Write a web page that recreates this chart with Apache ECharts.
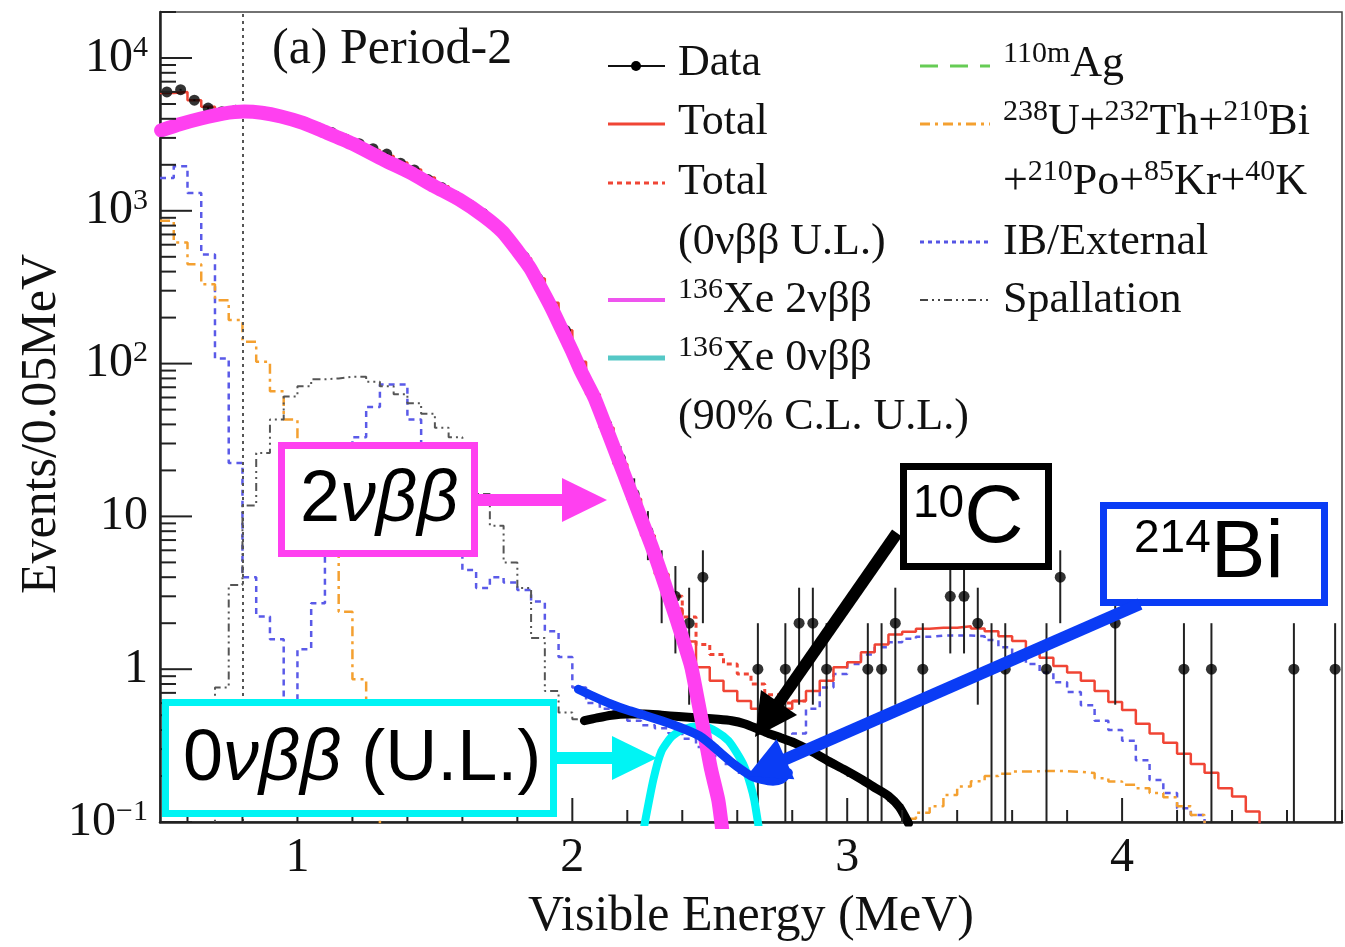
<!DOCTYPE html>
<html><head><meta charset="utf-8">
<script src="https://cdn.jsdelivr.net/npm/echarts@6/dist/echarts.min.js"></script>
<style>html,body{margin:0;padding:0;background:#fff}#c{width:1345px;height:947px}</style>
</head><body><div id="c"></div><script>
// ---------------- values ----------------
const binWidth = 0.05;               // MeV per bin
const xLabels = [1, 2, 3, 4];
const yDecades = [0.1, 1, 10, 100, 1000, 10000];

// data: [bin centre (MeV), events]
const dataCounts = [
 [0.525,6000],[0.575,6200],[0.625,5300],[0.675,4700],[0.725,4450],[0.775,4550],[0.825,4400],[0.875,4450],
 [0.925,4200],[0.975,4000],[1.025,3800],[1.075,3500],[1.125,3250],[1.175,2950],[1.225,2750],[1.275,2550],
 [1.325,2350],[1.375,2050],[1.425,1850],[1.475,1600],[1.525,1420],[1.575,1250],[1.625,1100],[1.675,960],
 [1.725,780],[1.775,620],[1.825,500],[1.875,360],[1.925,240],[1.975,165],[2.025,100],[2.075,63],
 [2.125,40],[2.175,24],[2.225,14],[2.275,8],[2.325,4],[2.375,3],[2.425,2],[2.475,4],
 [2.675,1],[2.775,1],[2.825,2],[2.875,2],[2.925,1],[3.075,1],[3.125,1],[3.175,2],[3.275,1],
 [3.375,3],[3.425,3],[3.475,2],[3.525,1],[3.575,1],[3.725,1],[3.775,4],[3.975,2],
 [4.225,1],[4.325,1],[4.625,1],[4.775,1]
];

const totalFit = [
 [0.525,5900],[0.575,6000],[0.625,5300],[0.675,4800],[0.725,4500],[0.775,4450],[0.825,4400],[0.875,4350],
 [0.925,4200],[0.975,4000],[1.025,3780],[1.075,3520],[1.125,3250],[1.175,2980],[1.225,2730],[1.275,2500],
 [1.325,2280],[1.375,2070],[1.425,1860],[1.475,1650],[1.525,1450],[1.575,1260],[1.625,1090],[1.675,930],
 [1.725,780],[1.775,630],[1.825,490],[1.875,360],[1.925,250],[1.975,165],[2.025,103],[2.075,63],
 [2.125,38],[2.175,22],[2.225,13],[2.275,7.5],[2.325,4.2],[2.375,2.5],[2.425,1.52],[2.475,1.03],
 [2.525,0.84],[2.575,0.72],[2.625,0.62],[2.675,0.55],[2.725,0.55],[2.775,0.55],[2.825,0.62],[2.875,0.72],
 [2.925,0.84],[2.975,1.03],[3.025,1.11],[3.075,1.29],[3.125,1.45],[3.175,1.69],[3.225,1.76],[3.275,1.84],
 [3.325,1.87],[3.375,1.87],[3.425,1.91],[3.475,1.85],[3.525,1.77],[3.575,1.64],[3.625,1.53],[3.675,1.35],
 [3.725,1.19],[3.775,1.05],[3.825,0.95],[3.875,0.84],[3.925,0.72],[3.975,0.61],[4.025,0.54],[4.075,0.44],
 [4.125,0.38],[4.175,0.33],[4.225,0.28],[4.275,0.24],[4.325,0.21],[4.375,0.166],[4.425,0.147],[4.475,0.117],
 [4.525,0.05]
];

const totalWithUL = [
 [2.375,3.0],[2.425,2.2],[2.475,1.45],[2.525,1.25],[2.575,1.08],[2.625,0.93],[2.675,0.8],[2.725,0.68],
 [2.775,0.6],[2.825,0.62]
];

const ibExternal = [
 [0.525,1640],[0.575,1960],[0.625,1310],[0.675,518],[0.725,108],[0.775,22.4],[0.825,4.0],[0.875,2.21],
 [0.925,1.57],[0.975,0.3],[1.025,1.35],[1.075,2.7],[1.125,8],[1.175,16],[1.225,33],[1.275,52],
 [1.325,73],[1.375,73],[1.425,43],[1.475,30],[1.525,18],[1.575,9],[1.625,4.46],[1.675,3.4],
 [1.725,4.0],[1.775,3.7],[1.825,3.3],[1.875,2.77],[1.925,1.77],[1.975,1.2],[2.025,0.76],[2.075,0.6],
 [2.125,0.55],[2.175,0.5],[2.225,0.46],[2.275,0.43],[2.325,0.41],[2.375,0.38],[2.425,0.35],[2.475,0.31],
 [2.525,0.27],[2.575,0.24],[2.625,0.21],[2.675,0.2],[2.725,0.2],[2.775,0.27],[2.825,0.38],[2.875,0.55],
 [2.925,0.76],[2.975,0.93],[3.025,1.08],[3.075,1.25],[3.125,1.39],[3.175,1.5],[3.225,1.58],[3.275,1.63],
 [3.325,1.66],[3.375,1.66],[3.425,1.66],[3.475,1.64],[3.525,1.55],[3.575,1.39],[3.625,1.22],[3.675,1.08],
 [3.725,0.95],[3.775,0.82],[3.825,0.71],[3.875,0.58],[3.925,0.46],[3.975,0.40],[4.025,0.34],[4.075,0.254],
 [4.125,0.188],[4.175,0.155],[4.225,0.123],[4.275,0.111],[4.325,0.05]
];

const uThLow = [
 [0.525,861],[0.575,620],[0.625,447],[0.675,330],[0.725,260],[0.775,193],[0.825,139],[0.875,103],
 [0.925,66],[0.975,43],[1.025,30],[1.075,15],[1.125,7],[1.175,2.38],[1.225,0.86],[1.275,0.35],[1.325,0.05]
];
const uThHigh = [
 [3.175,0.05],[3.225,0.105],[3.275,0.115],[3.325,0.127],[3.375,0.15],[3.425,0.171],[3.475,0.185],[3.525,0.2],
 [3.575,0.207],[3.625,0.214],[3.675,0.215],[3.725,0.216],[3.775,0.215],[3.825,0.213],[3.875,0.209],[3.925,0.193],
 [3.975,0.184],[4.025,0.175],[4.075,0.166],[4.125,0.155],[4.175,0.145],[4.225,0.127],[4.275,0.111],[4.325,0.05]
];

const spallation = [
 [0.675,0.05],[0.725,0.76],[0.775,3.56],[0.825,11.8],[0.875,26],[0.925,43],[0.975,61],[1.025,71],
 [1.075,79],[1.125,80],[1.175,82],[1.225,82],[1.275,76],[1.325,71],[1.375,63],[1.425,55],
 [1.475,47],[1.525,38],[1.575,33],[1.625,24],[1.675,14],[1.725,8.7],[1.775,5.0],[1.825,3.4],
 [1.875,1.6],[1.925,0.72],[1.975,0.52],[2.025,0.47],[2.075,0.47],[2.125,0.5],[2.175,0.5],[2.225,0.51],
 [2.275,0.5],[2.325,0.49],[2.375,0.49],[2.425,0.48],[2.475,0.47],[2.525,0.47],[2.575,0.45],[2.625,0.44],
 [2.675,0.41],[2.725,0.37],[2.775,0.35],[2.825,0.32],[2.875,0.29],[2.925,0.255],[2.975,0.23],[3.025,0.2],
 [3.075,0.18],[3.125,0.158],[3.175,0.135],[3.225,0.05]
];

// hand-drawn highlight strokes: [MeV, events]
const hand2nu = [
 [0.504,3360],[0.575,3700],[0.649,4020],[0.73,4330],[0.806,4460],[0.87,4380],[0.94,4140],[1.02,3760],
 [1.097,3300],[1.2,2750],[1.315,2150],[1.41,1780],[1.497,1450],[1.59,1180],[1.679,920],[1.745,730],
 [1.803,540],[1.847,420],[1.887,310],[1.925,230],[1.96,170],[2.0,120],[2.033,88],[2.08,60],
 [2.131,35],[2.17,23],[2.204,15.9],[2.245,10.2],[2.287,6.5],[2.32,4.4],[2.349,3.07],[2.38,2.1],
 [2.408,1.45],[2.433,1.03],[2.455,0.65],[2.48,0.378],[2.505,0.22],[2.531,0.139],[2.545,0.09]
];
const hand0nu = [
 [2.262,0.095],[2.295,0.19],[2.324,0.29],[2.36,0.36],[2.397,0.40],[2.44,0.42],[2.48,0.42],[2.525,0.39],
 [2.568,0.34],[2.6,0.28],[2.626,0.23],[2.648,0.175],[2.662,0.139],[2.677,0.095]
];
const handBi214 = [
 [2.022,0.74],[2.08,0.66],[2.142,0.59],[2.2,0.54],[2.262,0.50],[2.325,0.46],[2.386,0.42],[2.43,0.39],
 [2.469,0.36],[2.505,0.32],[2.542,0.28],[2.58,0.245],[2.615,0.22],[2.65,0.2],[2.688,0.19],[2.73,0.185],
 [2.761,0.19],[2.786,0.21]
];
const handC10 = [
 [2.044,0.46],[2.09,0.48],[2.142,0.50],[2.2,0.51],[2.262,0.51],[2.325,0.50],[2.386,0.49],[2.46,0.48],
 [2.531,0.47],[2.58,0.46],[2.626,0.44],[2.67,0.41],[2.713,0.38],[2.76,0.355],[2.808,0.33],[2.87,0.29],
 [2.932,0.25],[2.99,0.22],[3.052,0.19],[3.1,0.168],[3.15,0.148],[3.19,0.125],[3.223,0.098]
];

// ---------------- build ----------------
const X_MIN = 0.5, X_MAX = 4.8, Y_MIN = 0.1, Y_MAX = 20000;
const SERIF = 'Liberation Serif';
const SANS = 'Liberation Sans';

function hist(pairs) {
  const out = pairs.map(p => [+(p[0] - binWidth / 2).toFixed(4), p[1]]);
  const last = pairs[pairs.length - 1];
  out.push([+(last[0] + binWidth / 2).toFixed(4), last[1]]);
  return out;
}
function histSeries(name, pairs, color, width, type, z) {
  return { name, type: 'line', step: 'end', data: hist(pairs), symbol: 'none', showSymbol: false,
    lineStyle: { color, width, type }, z, silent: true, animation: false };
}
function handSeries(name, pairs, color, width, z) {
  return { name, type: 'line', smooth: 0.2, data: pairs, symbol: 'none', showSymbol: false,
    lineStyle: { color, width, cap: 'round', join: 'round' }, z, silent: true, animation: false };
}

// axis tick positions (ROOT style)
const xTickVals = [];
for (let i = 3; i <= 24; i++) xTickVals.push(+(i * 0.2).toFixed(1));
const yMinorVals = [];
for (let k = -1; k <= 4; k++) for (let m = 2; m <= 9; m++) { const v = m * Math.pow(10, k); if (v <= Y_MAX) yMinorVals.push(v); }

const tickSeries = {
  type: 'custom', silent: true, z: 30, animation: false, data: [[X_MIN, 1]],
  renderItem(params, api) {
    const ch = [];
    const origin = api.coord([X_MIN, Y_MIN]);
    const st = { stroke: '#222', lineWidth: 2 };
    xTickVals.forEach(v => {
      const p = api.coord([v, Y_MIN]);
      const major = Math.abs(v - Math.round(v)) < 1e-6;
      ch.push({ type: 'line', shape: { x1: p[0], y1: origin[1], x2: p[0], y2: origin[1] - (major ? 24 : 12) }, style: st });
    });
    yDecades.forEach(v => {
      const p = api.coord([X_MIN, v]);
      ch.push({ type: 'line', shape: { x1: origin[0], y1: p[1], x2: origin[0] + 32, y2: p[1] }, style: st });
    });
    yMinorVals.forEach(v => {
      const p = api.coord([X_MIN, v]);
      ch.push({ type: 'line', shape: { x1: origin[0], y1: p[1], x2: origin[0] + 16, y2: p[1] }, style: st });
    });
    return { type: 'group', children: ch };
  }
};

const errorBars = {
  type: 'custom', silent: true, z: 8, animation: false, data: dataCounts,
  renderItem(params, api) {
    const x = api.value(0), n = api.value(1), e = Math.sqrt(n);
    const lo = Math.max(n - e, Y_MIN), hi = n + e;
    const p1 = api.coord([x, lo]), p2 = api.coord([x, hi]);
    return { type: 'line', shape: { x1: p1[0], y1: p1[1], x2: p2[0], y2: p2[1] }, style: { stroke: '#222', lineWidth: 2 } };
  }
};

// ---------- annotation helpers (pixel layout) ----------
function arrow(x0, y0, x1, y1, color, w, headLen, headHalf) {
  const dx = x1 - x0, dy = y1 - y0, L = Math.hypot(dx, dy);
  const ux = dx / L, uy = dy / L, nx = -uy, ny = ux;
  const bx = x1 - ux * headLen, by = y1 - uy * headLen;
  return [
    { type: 'line', z: 100, shape: { x1: x0, y1: y0, x2: bx + ux * 2, y2: by + uy * 2 }, style: { stroke: color, lineWidth: w } },
    { type: 'polygon', z: 100, shape: { points: [[x1, y1], [bx + nx * headHalf, by + ny * headHalf], [bx - nx * headHalf, by - ny * headHalf]] }, style: { fill: color } }
  ];
}
function box(x0, y0, x1, y1, color, lw) {
  return { type: 'rect', z: 99, shape: { x: x0 + lw / 2, y: y0 + lw / 2, width: x1 - x0 - lw, height: y1 - y0 - lw }, style: { fill: '#fff', stroke: color, lineWidth: lw } };
}
function legLine(x0, x1, y, color, width, type) {
  return { type: 'line', z: 60, shape: { x1: x0, y1: y, x2: x1, y2: y }, style: { stroke: color, lineWidth: width, lineDash: type || null } };
}
const legRich = {
  b: { fontFamily: SERIF, fontSize: 44, lineHeight: 50, fill: '#111', verticalAlign: 'middle' },
  s: { fontFamily: SERIF, fontSize: 30, lineHeight: 50, fill: '#111', verticalAlign: 'top' }
};
function legText(x, y, text) {
  return { type: 'text', z: 60, x, y, style: { text, rich: legRich, verticalAlign: 'middle', align: 'left', fill: '#111' } };
}

const M = '#ff40f0', CY = '#00f4f4', BL = '#0a3cf5';
const annRichBig = {
  n: { fontFamily: SANS, fontSize: 72, fill: '#000', lineHeight: 84, verticalAlign: 'middle' },
  i: { fontFamily: SANS, fontSize: 72, fontStyle: 'italic', fill: '#000', lineHeight: 84, verticalAlign: 'middle' },
  s: { fontFamily: SANS, fontSize: 46, fill: '#000', lineHeight: 84, verticalAlign: 'top', padding: [4, 0, 0, 0] },
  b: { fontFamily: SANS, fontSize: 82, fill: '#000', lineHeight: 84, verticalAlign: 'middle' }
};

const graphics = [
  { type: 'text', z: 60, x: 272, y: 50, style: { text: '(a) Period-2', fontFamily: SERIF, fontSize: 50, fill: '#111', verticalAlign: 'middle' } },
  // y-axis title, placed like ROOT's
  { type: 'text', z: 60, x: 42, y: 424, rotation: Math.PI / 2, style: { text: 'Events/0.05MeV', fontFamily: SERIF, fontSize: 50, fill: '#111', align: 'center', verticalAlign: 'middle' } },
  // legend column 1
  legLine(608, 665, 66, '#111', 2), { type: 'circle', z: 61, shape: { cx: 636, cy: 66, r: 5 }, style: { fill: '#000' } },
  legText(678, 63, '{b|Data}'),
  legLine(608, 665, 124, '#f04535', 3), legText(678, 122, '{b|Total}'),
  legLine(608, 665, 183, '#f04535', 3, [5, 4]), legText(678, 182, '{b|Total}'),
  legText(678, 242, '{b|(0νββ U.L.)}'),
  legLine(608, 665, 300, '#ee55ee', 4), legText(678, 300, '{s|136}{b|Xe 2νββ}'),
  legLine(608, 665, 358, '#55c8c6', 5), legText(678, 358, '{s|136}{b|Xe 0νββ}'),
  legText(678, 417, '{b|(90% C.L. U.L.)}'),
  // legend column 2
  legLine(920, 990, 66, '#66cc55', 3, [18, 12]), legText(1003, 64, '{s|110m}{b|Ag}'),
  legLine(920, 990, 124, '#f4a030', 3, [10, 5, 3, 5]), legText(1003, 122, '{s|238}{b|U+}{s|232}{b|Th+}{s|210}{b|Bi}'),
  legText(1003, 182, '{b|+}{s|210}{b|Po+}{s|85}{b|Kr+}{s|40}{b|K}'),
  legLine(920, 990, 242, '#5555e5', 3, [4, 4]), legText(1003, 242, '{b|IB/External}'),
  legLine(920, 990, 300, '#444', 2, [8, 4, 2, 4, 2, 4]), legText(1003, 300, '{b|Spallation}'),
  // annotation boxes
  box(278, 442, 478, 557, M, 7),
  { type: 'text', z: 101, x: 300, y: 501, style: { text: '{n|2}{i|νββ}', rich: annRichBig, verticalAlign: 'middle' } },
  ...arrow(478, 500, 607, 500, M, 12, 45, 22),
  box(162, 699, 557, 817, CY, 7),
  { type: 'text', z: 101, x: 183, y: 760, style: { text: '{n|0}{i|νββ}{n| (U.L.)}', rich: annRichBig, verticalAlign: 'middle' } },
  ...arrow(557, 758, 657, 758, CY, 12, 45, 22),
  box(900, 463, 1052, 570, '#000', 7),
  { type: 'text', z: 101, x: 913, y: 519, style: { text: '{s|10}{b|C}', rich: annRichBig, verticalAlign: 'middle' } },
  ...arrow(897, 533, 755, 737, '#000', 12, 42, 22),
  box(1100, 502, 1328, 606, BL, 7),
  { type: 'text', z: 101, x: 1134, y: 554, style: { text: '{s|214}{b|Bi}', rich: annRichBig, verticalAlign: 'middle' } },
  ...arrow(1140, 604, 747, 776, BL, 12, 42, 22)
];

const option = {
  animation: false,
  backgroundColor: '#fff',
  grid: { left: 160, right: 3, top: 12, bottom: 119, show: true, borderColor: '#444', borderWidth: 1.5, backgroundColor: 'transparent' },
  xAxis: {
    type: 'value', min: X_MIN, max: X_MAX, interval: 0.5,
    name: 'Visible Energy (MeV)', nameLocation: 'middle', nameGap: 70, nameMoveOverlap: false,
    nameTextStyle: { fontFamily: SERIF, fontSize: 50, color: '#111' },
    axisLine: { show: true, lineStyle: { color: '#222', width: 2.5 } },
    axisTick: { show: false }, splitLine: { show: false },
    axisLabel: { fontFamily: SERIF, fontSize: 48, color: '#111', margin: 12, showMaxLabel: false, showMinLabel: false,
      formatter: v => (Math.abs(v - Math.round(v)) < 1e-6 && xLabels.indexOf(Math.round(v)) >= 0) ? String(Math.round(v)) : '' }
  },
  yAxis: {
    type: 'log', logBase: 10, min: Y_MIN, max: Y_MAX,
    axisLine: { show: true, lineStyle: { color: '#222', width: 2.5 } },
    axisTick: { show: false }, splitLine: { show: false }, minorTick: { show: false },
    axisLabel: {
      margin: 12, showMaxLabel: false,
      formatter: v => {
        const l = Math.log10(v), e = Math.round(l);
        if (Math.abs(l - e) > 0.01) return '';
        if (e === 0) return '{b|1}';
        if (e === 1) return '{b|10}';
        return '{b|10}{s|' + (e < 0 ? '−' + (-e) : e) + '}';
      },
      rich: {
        b: { fontFamily: SERIF, fontSize: 48, color: '#111', lineHeight: 50, verticalAlign: 'middle' },
        s: { fontFamily: SERIF, fontSize: 30, color: '#111', lineHeight: 50, verticalAlign: 'top' }
      }
    }
  },
  series: [
    histSeries('IB/External', ibExternal, '#5a5ae8', 2.5, [6, 5], 3),
    histSeries('U/Th low', uThLow, '#f4a030', 2.5, [10, 5, 3, 5], 3),
    histSeries('U/Th high', uThHigh, '#f4a030', 2.5, [10, 5, 3, 5], 3),
    histSeries('Spallation', spallation, '#555', 2, [8, 4, 2, 4, 2, 4], 3),
    Object.assign(histSeries('Total', totalFit, '#f04535', 2.5, 'solid', 4), {
      markLine: { silent: true, symbol: 'none', animation: false, label: { show: false },
        lineStyle: { type: [3, 4], color: '#555', width: 2 }, data: [{ xAxis: 0.8 }] }
    }),
    histSeries('Total (UL)', totalWithUL, '#f04535', 3, [5, 4], 4),
    errorBars,
    { name: 'Data', type: 'scatter', data: dataCounts, symbol: 'circle', symbolSize: 11, itemStyle: { color: '#000' }, z: 9, silent: true, animation: false },
    handSeries('C10', handC10, '#000', 9, 11),
    handSeries('0nu', hand0nu, CY, 8, 12),
    handSeries('2nu', hand2nu, M, 14, 13),
    handSeries('Bi214', handBi214, BL, 9, 14),
    tickSeries
  ],
  graphic: { elements: graphics }
};

const chart = echarts.init(document.getElementById('c'), null, { renderer: 'canvas' });
chart.setOption(option);
</script></body></html>
